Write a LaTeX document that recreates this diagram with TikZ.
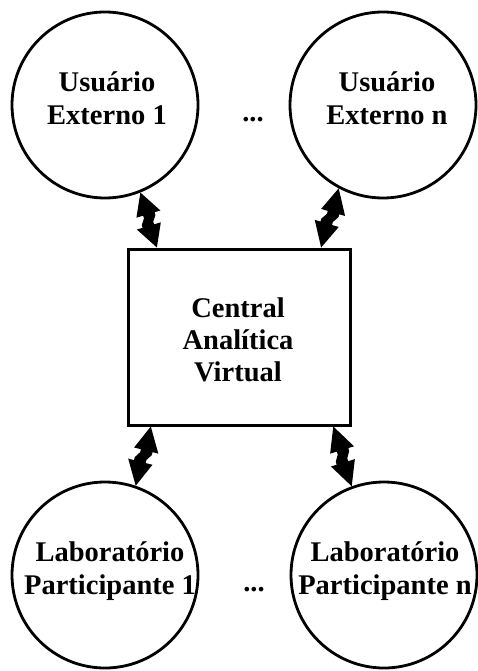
\documentclass[tikz,border=0pt]{standalone}
\usepackage{fontspec}
\setmainfont{Liberation Serif}
\usetikzlibrary{calc}
\tikzset{
  ent/.style={circle, draw, line width=2.8pt, minimum size=186pt, inner sep=0pt},
  hub/.style={rectangle, draw, line width=3pt, minimum width=222pt, minimum height=176pt, inner sep=0pt},
  lbl/.style={align=center, inner sep=0pt, font=\bfseries\fontsize{28.5}{33}\selectfont},
  hublbl/.style={align=center, inner sep=0pt, font=\bfseries\fontsize{28.5}{32}\selectfont},
  zap/.style={fill=black, draw=none}
}
\newcommand\zaparrow[2]{%
 \fill[zap] (#1) -- ($(#1)!0.40!(#2)!14pt!90:(#2)$) -- ($(#1)!0.40!(#2)!8pt!90:(#2)$)
  -- ($(#1)!0.45!(#2)!8pt!90:(#2)$) -- ($(#1)!0.55!(#2)!4pt!90:(#2)$)
  -- ($(#1)!0.60!(#2)!4pt!90:(#2)$) -- ($(#1)!0.60!(#2)!11pt!90:(#2)$)
  -- (#2)
  -- ($(#1)!0.60!(#2)!14pt!-90:(#2)$) -- ($(#1)!0.60!(#2)!8pt!-90:(#2)$)
  -- ($(#1)!0.55!(#2)!8pt!-90:(#2)$) -- ($(#1)!0.45!(#2)!4pt!-90:(#2)$)
  -- ($(#1)!0.40!(#2)!4pt!-90:(#2)$) -- ($(#1)!0.40!(#2)!11pt!-90:(#2)$) -- cycle;}
\begin{document}
\begin{tikzpicture}[x=1pt, y=-1pt]
\useasboundingbox (0,0) rectangle (478,671);
% entities
\node[ent] (u1) at (105,105) {};
\node[ent] (un) at (383,105) {};
\node[ent] (l1) at (105,575) {};
\node[ent] (ln) at (384,575) {};
\node[hub] (c) at (239,337) {};
% labels
\node[lbl] (tu1) at (107,98.5) {Usuário\\Externo 1};
\node[lbl] (tun) at (387,98.5) {Usuário\\Externo n};
\node[lbl] (tl1) at (110,571.5) {Laboratório\\Participante 1};
\node[lbl] (tln) at (385,571.5) {Laboratório\\Participante n};
\node[hublbl] (tc) at (238,339.4) {Central\\Analítica\\Virtual};
\node[lbl, anchor=base] (d1) at (253,122) {...};
\node[lbl, anchor=base] (d2) at (254,591) {...};
% connector end points
\coordinate (c1) at ($(c.north west)!0.135!(c.north east)$);
\coordinate (c2) at ($(c.north west)!0.865!(c.north east)$);
\coordinate (c3) at ($(c.south west)!0.108!(c.south east)$);
\coordinate (c4) at ($(c.south west)!0.919!(c.south east)$);
\zaparrow{u1.-68}{c1}
\zaparrow{un.-118.6}{c2}
\zaparrow{c3}{l1.71}
\zaparrow{c4}{ln.110}
\end{tikzpicture}
\end{document}
